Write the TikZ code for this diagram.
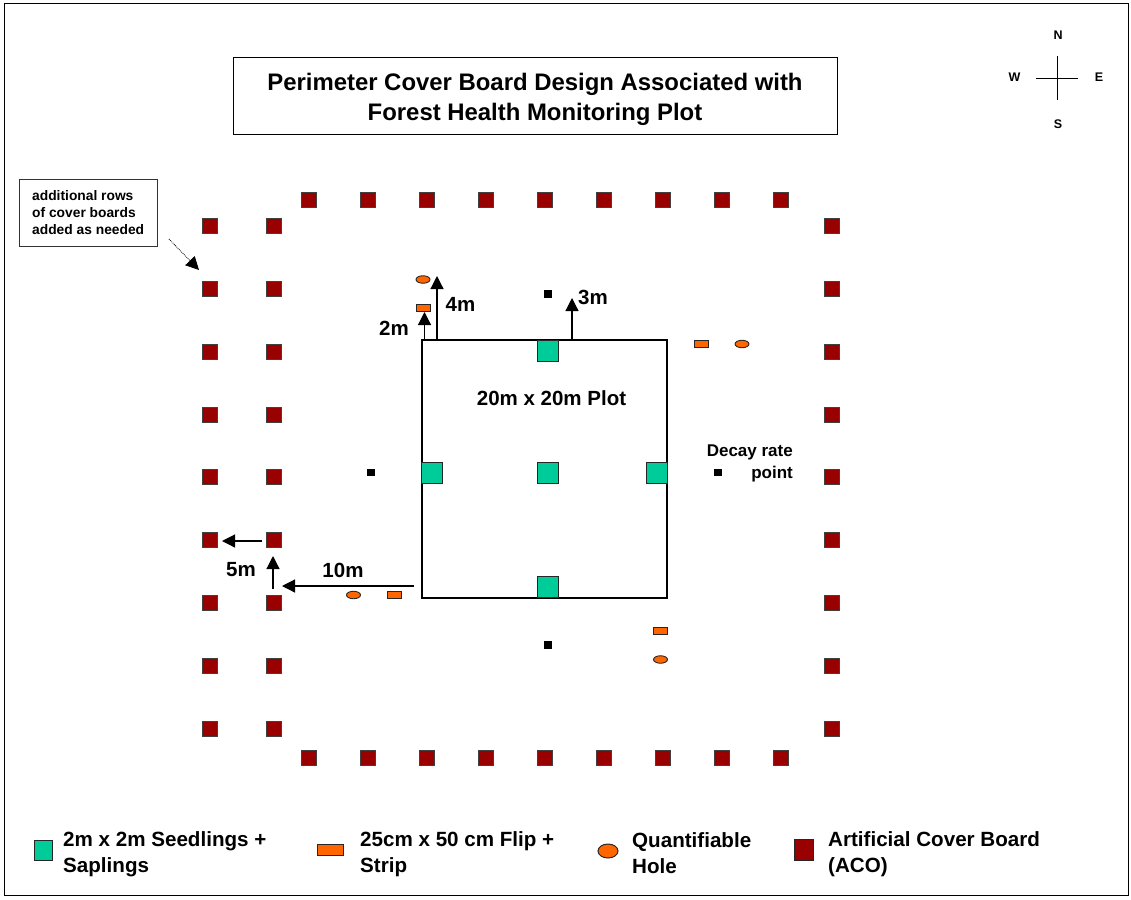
\documentclass[tikz,border=0pt]{standalone}
\usepackage{fontspec}
\setmainfont{Liberation Sans}
\usetikzlibrary{arrows.meta,shapes.geometric}
\definecolor{aco}{RGB}{153,0,0}
\definecolor{seed}{RGB}{0,204,153}
\definecolor{flip}{RGB}{255,102,0}
\tikzset{
  aco board/.style={draw=black!75,line width=.9pt,fill=aco,minimum size=15pt,inner sep=0pt,outer sep=0pt},
  seed plot/.style={draw=black!85,line width=1pt,fill=seed,minimum size=21.5pt,inner sep=0pt,outer sep=0pt},
  flip strip/.style={draw=black!85,line width=.9pt,fill=flip,minimum width=14pt,minimum height=7.5pt,inner sep=0pt,outer sep=0pt},
  hole/.style={ellipse,draw=black!85,line width=.9pt,fill=flip,minimum width=14pt,minimum height=7.5pt,inner sep=0pt,outer sep=0pt},
  decay/.style={fill=black,minimum size=7.5pt,inner sep=0pt,outer sep=0pt},
  frame box/.style={draw=black,line width=1pt,inner sep=0pt,outer sep=0pt},
  lab/.style={font=\bfseries\fontsize{20.5}{20.5}\selectfont,inner sep=0pt},
  leg/.style={font=\bfseries\fontsize{20.6}{26}\selectfont,inner sep=0pt,align=left,anchor=west},
  dir/.style={font=\bfseries\fontsize{12.5}{12.5}\selectfont,inner sep=0pt},
  arr/.style={line width=1.2pt,-{Triangle[length=13pt,width=13pt]}},
}
\begin{document}
\begin{tikzpicture}[x=1pt,y=-1pt]
\useasboundingbox (0,0) rectangle (1131,899);
\node[frame box,minimum width=1124pt,minimum height=891pt] (border) at (566,449.5) {};
% title
\node[frame box,minimum width=604pt,minimum height=76pt] (titlebox) at (535,96) {};
\node[align=center,inner sep=0pt,font=\bfseries\fontsize{23.9}{30}\selectfont] (title) at (535,99.5) {Perimeter Cover Board Design Associated with\\Forest Health Monitoring Plot};
% compass
\node[dir] (n) at (1058,35) {N};
\node[dir] (s) at (1058,124) {S};
\node[dir] (w) at (1014.5,77) {W};
\node[dir] (e) at (1099,77) {E};
\coordinate (cn) at (1057,56);
\coordinate (cs) at (1057,100);
\coordinate (cw) at (1036,78);
\coordinate (ce) at (1078,78);
\draw[line width=1pt] (cn) -- (cs);
\draw[line width=1pt] (cw) -- (ce);
% note
\node[draw=black!80,line width=1pt,minimum width=138pt,minimum height=67pt,inner sep=0pt,outer sep=0pt] (note) at (88,212.5) {};
\node[font=\bfseries\fontsize{13.8}{17}\selectfont,align=left,inner sep=0pt,anchor=west] (notetext) at (32,212.5) {additional rows\\of cover boards\\added as needed};
% boards
\foreach \x [count=\i] in {309,368,427,486,545,604,663,722,781}{
  \node[aco board] (t\i) at (\x,199.5) {};
  \node[aco board] (b\i) at (\x,758) {};
}
\foreach \y [count=\i] in {225.5,288.5,351.5,414.5,477,540,603,666,729}{
  \node[aco board] (l\i) at (210,\y) {};
  \node[aco board] (m\i) at (274,\y) {};
  \node[aco board] (r\i) at (832,\y) {};
}
% plot
\node[draw=black,line width=1.1pt,minimum width=245pt,minimum height=258pt,inner sep=0pt,outer sep=0pt] (plot) at (544.5,469) {};
\node[seed plot] (gt) at (548,351) {};
\node[seed plot] (gl) at (432,473) {};
\node[seed plot] (gc) at (548,473) {};
\node[seed plot] (gr) at (657,473) {};
\node[seed plot] (gb) at (548,587) {};
\node[lab] (plotlab) at (551.5,398) {20m x 20m Plot};
% small markers
\node[hole] (h1) at (423,279.5) {};
\node[flip strip] (f1) at (423,308) {};
\node[flip strip] (f2) at (701,344) {};
\node[hole] (h2) at (742,344) {};
\node[hole] (h3) at (353.5,595) {};
\node[flip strip] (f3) at (394.5,595) {};
\node[flip strip] (f4) at (660.5,631) {};
\node[hole] (h4) at (660.5,659.5) {};
\node[decay] (d1) at (548,294) {};
\node[decay] (d2) at (371,472.5) {};
\node[decay] (d3) at (718,472.5) {};
\node[decay] (d4) at (548,645) {};
\node[font=\bfseries\fontsize{17}{22}\selectfont,align=right,inner sep=0pt,anchor=east] (decaylab) at (793,463.5) {Decay rate\\point};
% arrows
\coordinate (na) at (169,239);
\coordinate (nb) at (199,270);
\draw[line width=.8pt,densely dotted,-{Triangle[length=13pt,width=13pt]}] (na) -- (nb);
\coordinate (a1s) at (262,541);
\coordinate (a1e) at (222,541);
\draw[arr] (a1s) -- (a1e);
\coordinate (a2s) at (273,589);
\coordinate (a2e) at (273,556);
\draw[arr] (a2s) -- (a2e);
\coordinate (a3s) at (414,586);
\coordinate (a3e) at (282,586);
\draw[arr] (a3s) -- (a3e);
\coordinate (a4s) at (424.5,339);
\coordinate (a4e) at (424.5,312);
\draw[arr] (a4s) -- (a4e);
\coordinate (a5s) at (437,340);
\coordinate (a5e) at (437,276);
\draw[arr] (a5s) -- (a5e);
\coordinate (a6s) at (572,340);
\coordinate (a6e) at (572,298);
\draw[arr] (a6s) -- (a6e);
\node[lab] (l2m) at (394,328) {2m};
\node[lab] (l4m) at (460.5,304) {4m};
\node[lab] (l3m) at (593,297) {3m};
\node[lab] (l5m) at (241,570) {5m};
\node[lab] (l10m) at (343,570) {10m};
% legend
\node[draw=black!85,line width=1pt,fill=seed,minimum width=18pt,minimum height=20pt,inner sep=0pt] (k1) at (43,850) {};
\node[leg] (k1t) at (63,854.5) {2m x 2m Seedlings +\\Saplings};
\node[draw=black!85,line width=1pt,fill=flip,minimum width=26pt,minimum height=11pt,inner sep=0pt] (k2) at (330,850) {};
\node[leg] (k2t) at (360,854.5) {25cm x 50 cm Flip +\\Strip};
\node[ellipse,draw=black!85,line width=1pt,fill=flip,minimum width=20pt,minimum height=14pt,inner sep=0pt] (k3) at (608,851) {};
\node[leg] (k3t) at (632,853) {Quantifiable\\Hole};
\node[draw=black!85,line width=1pt,fill=aco,minimum width=19pt,minimum height=21pt,inner sep=0pt] (k4) at (804,850) {};
\node[leg] (k4t) at (828,854.5) {Artificial Cover Board\\(ACO)};
\end{tikzpicture}
\end{document}
